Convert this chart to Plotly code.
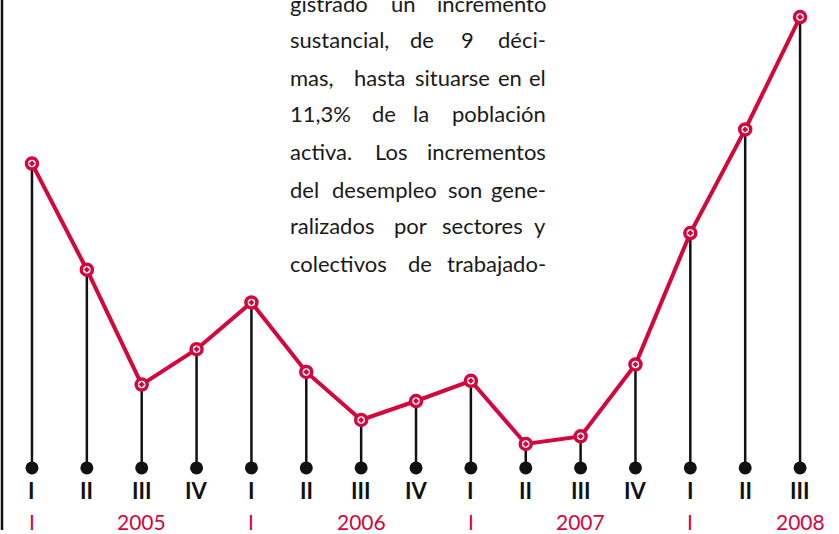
import plotly.graph_objects as go

# ---- data ----
quarters = ["I", "II", "III", "IV", "I", "II", "III", "IV",
            "I", "II", "III", "IV", "I", "II", "III"]
unemployment = [10.17, 9.33, 8.42, 8.70, 9.07, 8.52, 8.14, 8.29,
                8.45, 7.95, 8.01, 8.58, 9.62, 10.44, 11.33]
year_labels = ["I", "", "2005", "", "I", "", "2006", "",
               "I", "", "2007", "", "I", "", "2008"]

text_lines = [
    ["gistrado", "un", "incremento"],
    ["sustancial,", "de", "9", "déci-"],
    ["mas,", "hasta", "situarse", "en", "el"],
    ["11,3%", "de", "la", "población"],
    ["activa.", "Los", "incrementos"],
    ["del", "desempleo", "son", "gene-"],
    ["ralizados", "por", "sectores", "y"],
    ["colectivos", "de", "trabajado-"],
]
# centers (px) of middle words in the justified lines
middle_centers = [[403], [422, 467], [380, 452, 510], [384, 421], [391],
                  [384, 465], [410, 482], [420]]

RED = "#D3063D"
BLACK = "#111111"
W, H = 839, 534
BASE = 7.76

x = list(range(len(quarters)))

fig = go.Figure()

# stems
fig.add_trace(go.Scatter(
    x=x, y=unemployment, mode="markers",
    marker=dict(size=1, color="rgba(0,0,0,0)"),
    error_y=dict(type="data", symmetric=False,
                 array=[0] * len(x),
                 arrayminus=[v - BASE for v in unemployment],
                 color=BLACK, thickness=2.5, width=0),
    hoverinfo="skip", showlegend=False))

# base dots
fig.add_trace(go.Scatter(
    x=x, y=[BASE] * len(x), mode="markers",
    marker=dict(size=13, color=BLACK),
    hoverinfo="skip", showlegend=False))

# red line
fig.add_trace(go.Scatter(
    x=x, y=unemployment, mode="lines+markers",
    line=dict(color=RED, width=4),
    marker=dict(symbol="circle-dot", size=11, color="white",
                line=dict(color=RED, width=3.5)),
    showlegend=False))

# x labels (roman numerals)
for i, q in enumerate(quarters):
    fig.add_annotation(x=i, xref="x", y=1 - 490 / H, yref="paper",
                       text=q, showarrow=False, yanchor="middle",
                       font=dict(family="Lato", size=22, color=BLACK,
                                 weight="bold"))
for i, lab in enumerate(year_labels):
    if lab:
        fig.add_annotation(x=i, xref="x", y=1 - 521 / H, yref="paper",
                           text=lab, showarrow=False, yanchor="middle",
                           font=dict(family="Lato", size=21, color=RED))

# justified text block
X0, X1 = 288, 548
baselines = [10, 47, 84, 121, 158, 196, 233, 270]
tfont = dict(family="Lato", size=22, color="#1a1a1a")
for words, mids, base in zip(text_lines, middle_centers, baselines):
    yc = 1 - (base - 7) / H
    fig.add_annotation(x=X0 / W, xref="paper", y=yc, yref="paper",
                       text=words[0], showarrow=False,
                       xanchor="left", yanchor="middle", font=tfont)
    fig.add_annotation(x=X1 / W, xref="paper", y=yc, yref="paper",
                       text=words[-1], showarrow=False,
                       xanchor="right", yanchor="middle", font=tfont)
    for w, c in zip(words[1:-1], mids):
        fig.add_annotation(x=c / W, xref="paper", y=yc, yref="paper",
                           text=w, showarrow=False,
                           xanchor="center", yanchor="middle", font=tfont)

# left border line
fig.add_shape(type="line", xref="paper", yref="paper",
              x0=2 / W, x1=2 / W, y0=1 - 530 / H, y1=1,
              line=dict(color=BLACK, width=2.5))

fig.update_xaxes(range=[-0.583, 14.71], visible=False, fixedrange=True)
fig.update_yaxes(range=[7.237, 11.465], visible=False, fixedrange=True)
fig.update_layout(width=W, height=H, margin=dict(l=0, r=0, t=0, b=0),
                  plot_bgcolor="white", paper_bgcolor="white")

fig.write_html("out.html", config={"displayModeBar": False},
               post_script="document.body.style.margin='0';"
                           "document.body.style.overflow='hidden';")
